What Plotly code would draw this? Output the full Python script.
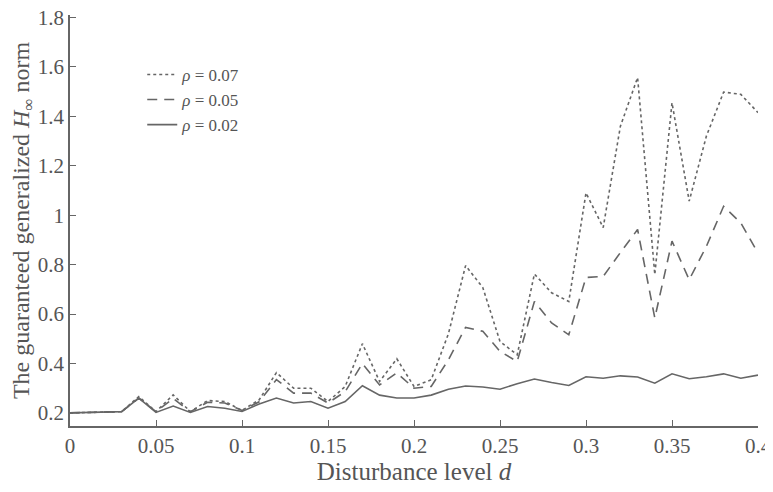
import plotly.graph_objects as go

d = [0, 0.03, 0.04, 0.05, 0.06, 0.07, 0.08, 0.09, 0.10, 0.11, 0.12, 0.13, 0.14, 0.15,
     0.16, 0.17, 0.18, 0.19, 0.20, 0.21, 0.22, 0.23, 0.24, 0.25, 0.26, 0.27, 0.28,
     0.29, 0.30, 0.31, 0.32, 0.33, 0.34, 0.35, 0.36, 0.37, 0.38, 0.39, 0.40]

rho_07 = [0.200, 0.205, 0.266, 0.205, 0.273, 0.205, 0.250, 0.246, 0.210, 0.253, 0.363,
          0.300, 0.300, 0.246, 0.307, 0.480, 0.327, 0.419, 0.307, 0.334, 0.520, 0.796,
          0.707, 0.489, 0.435, 0.762, 0.686, 0.651, 1.090, 0.950, 1.360, 1.557, 0.760,
          1.455, 1.057, 1.320, 1.498, 1.489, 1.415]

rho_05 = [0.200, 0.205, 0.260, 0.205, 0.258, 0.205, 0.243, 0.240, 0.210, 0.245, 0.335,
          0.280, 0.280, 0.240, 0.286, 0.400, 0.313, 0.362, 0.300, 0.307, 0.415, 0.546,
          0.530, 0.449, 0.408, 0.651, 0.564, 0.516, 0.748, 0.752, 0.849, 0.942, 0.584,
          0.895, 0.739, 0.874, 1.036, 0.969, 0.847]

rho_02 = [0.200, 0.205, 0.260, 0.202, 0.228, 0.202, 0.226, 0.219, 0.206, 0.236, 0.260,
          0.240, 0.246, 0.219, 0.246, 0.310, 0.272, 0.260, 0.260, 0.272, 0.296, 0.309,
          0.305, 0.296, 0.318, 0.337, 0.323, 0.311, 0.346, 0.340, 0.350, 0.345, 0.320,
          0.358, 0.338, 0.346, 0.358, 0.340, 0.353]

labels = ["<i>ρ</i> = 0.07", "<i>ρ</i> = 0.05", "<i>ρ</i> = 0.02"]
series = [rho_07, rho_05, rho_02]
dashes = ["3px,3px", "10px,7px", "solid"]

color = "#666666"
font_family = "Liberation Serif"

fig = go.Figure()
for lab, ys, dash in zip(labels, series, dashes):
    fig.add_trace(go.Scatter(x=d, y=ys, mode="lines", name=lab,
                             line=dict(color=color, width=1.6, dash=dash)))

# page body has an 8px default margin, so the figure is sized to fit the window
fig.update_layout(
    width=765, height=484,
    margin=dict(l=62, r=15, t=7, b=66, autoexpand=False),
    paper_bgcolor="white", plot_bgcolor="white",
    font=dict(family=font_family, color="#555555", size=21),
    showlegend=True,
    legend=dict(x=0.105, y=0.898, xanchor="left", yanchor="top",
                bgcolor="rgba(0,0,0,0)", font=dict(size=17, color="#555555"),
                tracegroupgap=0, itemwidth=30),
)
fig.update_xaxes(range=[0, 0.4], dtick=0.05, tick0=0, showline=True, linecolor=color,
                 linewidth=1.5, ticks="inside", ticklen=6, tickcolor=color, showgrid=False,
                 zeroline=False, mirror=False, automargin=True, ticklabeloverflow="allow",
                 title=dict(text="Disturbance level <i>d</i>", font=dict(size=25), standoff=2))
fig.update_yaxes(range=[0.147, 1.81], dtick=0.2, tick0=0.2, showline=True, linecolor=color,
                 linewidth=1.5, ticks="inside", ticklen=6, tickcolor=color, showgrid=False,
                 zeroline=False, mirror=False, automargin=True, ticklabeloverflow="allow",
                 title=dict(text="The guaranteed generalized <i>H</i><sub>∞</sub> norm",
                            font=dict(size=24), standoff=2))

fig.write_html("out.html")
